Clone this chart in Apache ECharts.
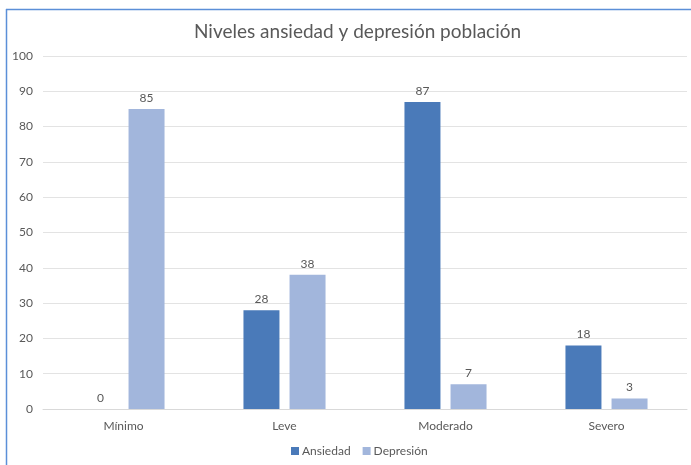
<!DOCTYPE html>
<html>
<head>
<meta charset="utf-8">
<script src="https://cdn.jsdelivr.net/npm/echarts@6/dist/echarts.min.js"></script>
<style>
  html, body { margin: 0; padding: 0; background: #fff; }
  #chart { width: 691px; height: 465px; }
</style>
</head>
<body>
<div id="chart"></div>
<script>
// Chart data
const categories = ['Mínimo', 'Leve', 'Moderado', 'Severo'];
const ansiedad = [0, 28, 87, 18];
const depresion = [85, 38, 7, 3];
const seriesNames = ['Ansiedad', 'Depresión'];
const titleText = 'Niveles ansiedad y depresión población';

const FONT = 'Lato, "Open Sans", sans-serif';
const TEXT = '#595959';

const chart = echarts.init(document.getElementById('chart'), null, { renderer: 'canvas' });

const labelStyle = {
  show: true,
  position: 'top',
  distance: 5,
  color: TEXT,
  fontSize: 12,
  fontFamily: FONT
};

chart.setOption({
  animation: false,
  backgroundColor: '#ffffff',
  title: {
    text: titleText,
    left: 189,
    top: 17,
    textStyle: { color: TEXT, fontSize: 19, fontWeight: 'normal', fontFamily: FONT }
  },
  legend: {
    data: seriesNames,
    bottom: 3,
    left: 286,
    itemWidth: 8,
    itemHeight: 8,
    itemGap: 12,
    icon: 'rect',
    textStyle: { color: TEXT, fontSize: 12, fontFamily: FONT, padding: [0, 0, 0, -2] }
  },
  grid: { left: 43, right: 4, top: 56, bottom: 56, containLabel: false },
  xAxis: {
    type: 'category',
    data: categories,
    axisLine: { show: true, lineStyle: { color: '#d9d9d9' } },
    axisTick: { show: false },
    axisLabel: { color: TEXT, fontSize: 12, fontFamily: FONT, margin: 11 }
  },
  yAxis: {
    type: 'value',
    min: 0,
    max: 100,
    interval: 10,
    axisLine: { show: false },
    axisTick: { show: false },
    splitLine: { lineStyle: { color: '#e3e3e3', width: 1 } },
    axisLabel: { color: TEXT, fontSize: 12, fontFamily: FONT, margin: 10 }
  },
  series: [
    {
      name: seriesNames[0],
      type: 'bar',
      data: ansiedad,
      barWidth: 36,
      barGap: '28%',
      itemStyle: { color: '#4a7ab9' },
      label: labelStyle
    },
    {
      name: seriesNames[1],
      type: 'bar',
      data: depresion,
      barWidth: 36,
      itemStyle: { color: '#a2b6dc' },
      label: labelStyle
    }
  ],
  graphic: [
    { type: 'line', shape: { x1: 6, y1: 9.5, x2: 691, y2: 9.5 }, style: { stroke: '#5b8fd8', lineWidth: 1.5 }, silent: true },
    { type: 'line', shape: { x1: 6.5, y1: 9, x2: 6.5, y2: 465 }, style: { stroke: '#5b8fd8', lineWidth: 1.5 }, silent: true }
  ]
});
</script>
</body>
</html>
